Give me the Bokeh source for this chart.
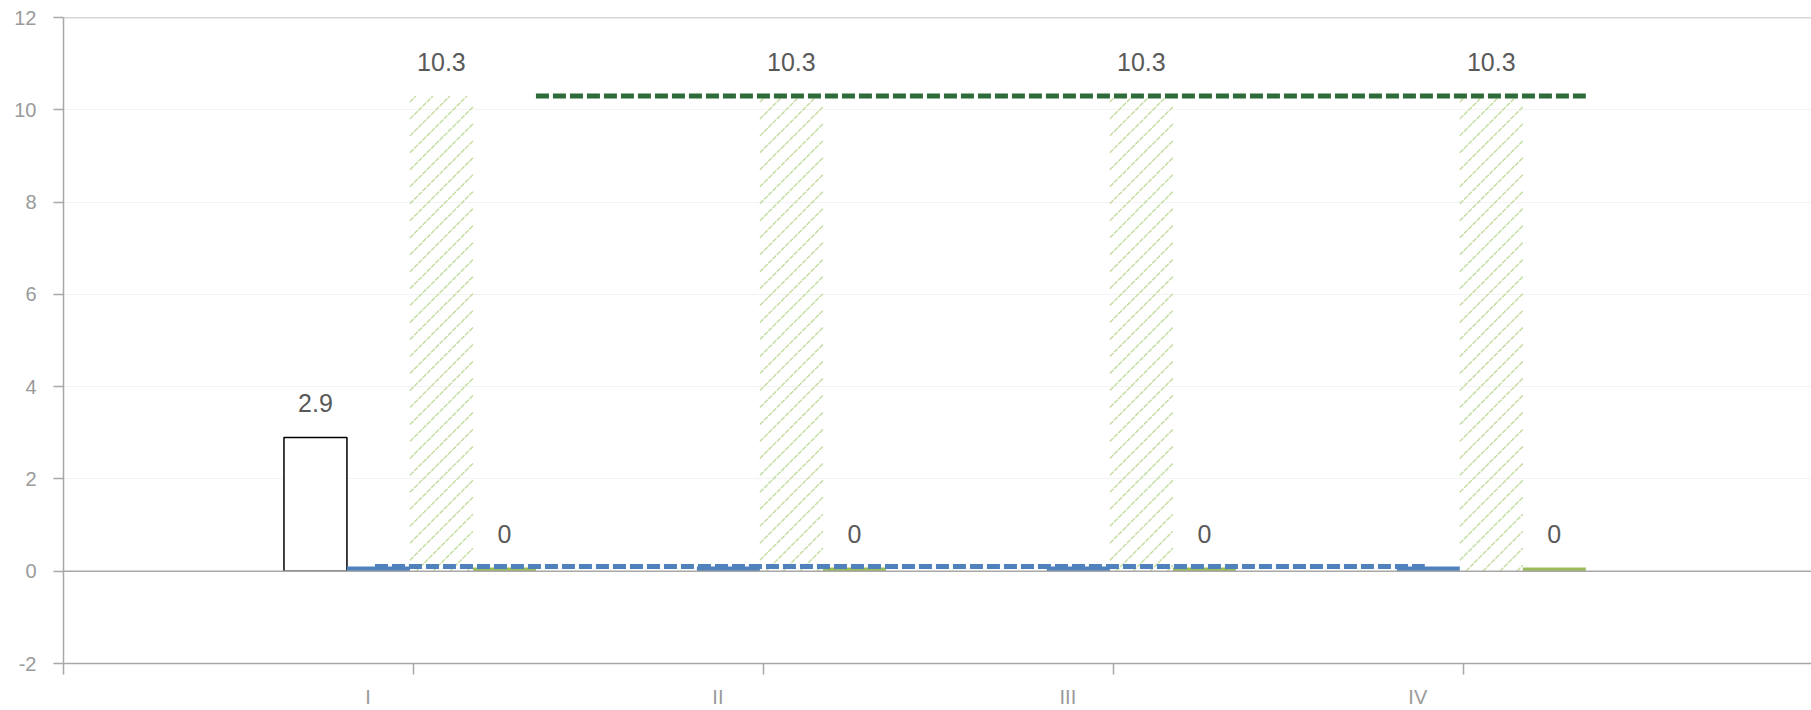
from bokeh.plotting import figure
from bokeh.models import Range1d, FixedTicker, Span, ColumnDataSource
from bokeh.embed import file_html
from bokeh.resources import INLINE
from bokeh.core.properties import value

# ---- data ----
categories = ["I", "II", "III", "IV"]
positions = [1, 2, 3, 4]
white_vals = [2.9, float("nan"), float("nan"), float("nan")]
white_labels = ["2.9", "", "", ""]
blue_vals = [0.1, 0.1, 0.1, 0.1]
hatch_vals = [10.3, 10.3, 10.3, 10.3]
hatch_labels = ["10.3", "10.3", "10.3", "10.3"]
green_vals = [0.08, 0.08, 0.08, 0.08]
green_labels = ["0", "0", "0", "0"]
blue_line_vals = [0.1, 0.1, 0.1, 0.1]
green_line_vals = [10.3, 10.3, 10.3, 10.3]
y_ticks = [-2, 0, 2, 4, 6, 8, 10, 12]

# ---- layout constants ----
W, H = 1811, 710
LEFT, TOP, BOTTOM = 63, 17, 46
X0, X1, Y0, Y1 = 0, 4.995, -2, 12
BW = 0.18
OFF = [-0.28, -0.10, 0.08, 0.26]
FONT = "Liberation Sans"
XPX = (W - LEFT) / (X1 - X0)          # screen px per x unit
YPX = (H - TOP - BOTTOM) / (Y1 - Y0)  # screen px per y unit
HATCH_SP = 17                          # px between hatch lines (horizontal)

p = figure(width=W, height=H, output_backend="svg", toolbar_location=None,
           x_range=Range1d(X0, X1), y_range=Range1d(Y0, Y1),
           min_border_left=LEFT, min_border_top=TOP, min_border_right=0, min_border_bottom=BOTTOM)
p.outline_line_color = None
p.background_fill_color = "white"
p.xgrid.grid_line_color = None
p.ygrid.grid_line_color = "#f3f3f3"
p.ygrid.ticker = FixedTicker(ticks=y_ticks)

# y axis
p.yaxis.ticker = FixedTicker(ticks=y_ticks)
p.yaxis.major_label_overrides = {t: str(t) for t in y_ticks}
p.yaxis.axis_line_color = "#a8a8a8"
p.yaxis.axis_line_width = 1.5
p.yaxis.major_tick_line_color = "#a8a8a8"
p.yaxis.major_tick_line_width = 1.5
p.yaxis.major_tick_out = 10
p.yaxis.major_tick_in = 0
p.yaxis.minor_tick_line_color = None
p.yaxis.major_label_standoff = 17
p.yaxis.major_label_text_font = FONT
p.yaxis.major_label_text_font_size = "20px"
p.yaxis.major_label_text_color = "#9a9a9a"

# x axis: tick marks at group boundaries (minor), labels offset (major)
p.xaxis.ticker = FixedTicker(ticks=[c - 0.13 for c in positions],
                             minor_ticks=[0, 1, 2, 3, 4, 5])
p.xaxis.major_label_overrides = {c - 0.13: lab for c, lab in zip(positions, categories)}
p.xaxis.axis_line_color = "#a8a8a8"
p.xaxis.axis_line_width = 1.5
p.xaxis.major_tick_line_color = None
p.xaxis.major_tick_out = 0
p.xaxis.major_tick_in = 0
p.xaxis.minor_tick_line_color = "#a8a8a8"
p.xaxis.minor_tick_line_width = 1.5
p.xaxis.minor_tick_out = 11
p.xaxis.minor_tick_in = 0
p.xaxis.major_label_standoff = 11
p.xaxis.major_label_text_font = FONT
p.xaxis.major_label_text_font_size = "20px"
p.xaxis.major_label_text_color = "#9a9a9a"

# top line and zero line
p.add_layout(Span(location=12, dimension="width", line_color="#b0b0b0", line_width=1.5))
p.add_layout(Span(location=0, dimension="width", line_color="#a8a8a8", line_width=1.5))

xs = [[c + o for c in positions] for o in OFF]

# bars
p.vbar(x=xs[0], top=white_vals, bottom=0, width=BW, fill_color="white",
       line_color="black", line_width=1.5)
p.vbar(x=xs[1], top=blue_vals, bottom=0, width=BW, fill_color="#4f81bd", line_color=None)
p.vbar(x=xs[3], top=green_vals, bottom=0, width=BW, fill_color="#9bbb59", line_color=None)

# hatched (pattern-only) bars: 45-degree "/" lines clipped to each bar
hx0, hy0, hx1, hy1 = [], [], [], []
for xc, top in zip(xs[2], hatch_vals):
    wp, hp = BW * XPX, top * YPX
    left = xc - BW / 2
    c = -wp + 6
    while c < hp:
        xa, xb = max(0.0, -c), min(wp, hp - c)
        if xb > xa:
            hx0.append(left + xa / XPX); hy0.append((xa + c) / YPX)
            hx1.append(left + xb / XPX); hy1.append((xb + c) / YPX)
        c += HATCH_SP
p.segment(x0=hx0, y0=hy0, x1=hx1, y1=hy1, line_color="#c3dc9f", line_width=1.4,
          line_dash="5 1")

# dashed lines
p.line(x=[c - 0.11 for c in positions], y=blue_line_vals, line_color="#4f81bd",
       line_width=5, line_dash="13 4", line_cap="butt")
p.line(x=[c + 0.35 for c in positions], y=green_line_vals, line_color="#2f6a3b",
       line_width=5, line_dash="13 4", line_cap="butt")

# value labels
lab_src = ColumnDataSource(dict(
    x=xs[0] + xs[2] + xs[3],
    y=[0 if v != v else v for v in white_vals] + hatch_vals + green_vals,
    t=white_labels + hatch_labels + green_labels,
))
p.text(x="x", y="y", text="t", source=lab_src, y_offset=-34,
       text_align="center", text_baseline="middle",
       text_font=value(FONT), text_font_size="25px", text_color="#595959")

open("out.html", "w").write(file_html(p, INLINE))
